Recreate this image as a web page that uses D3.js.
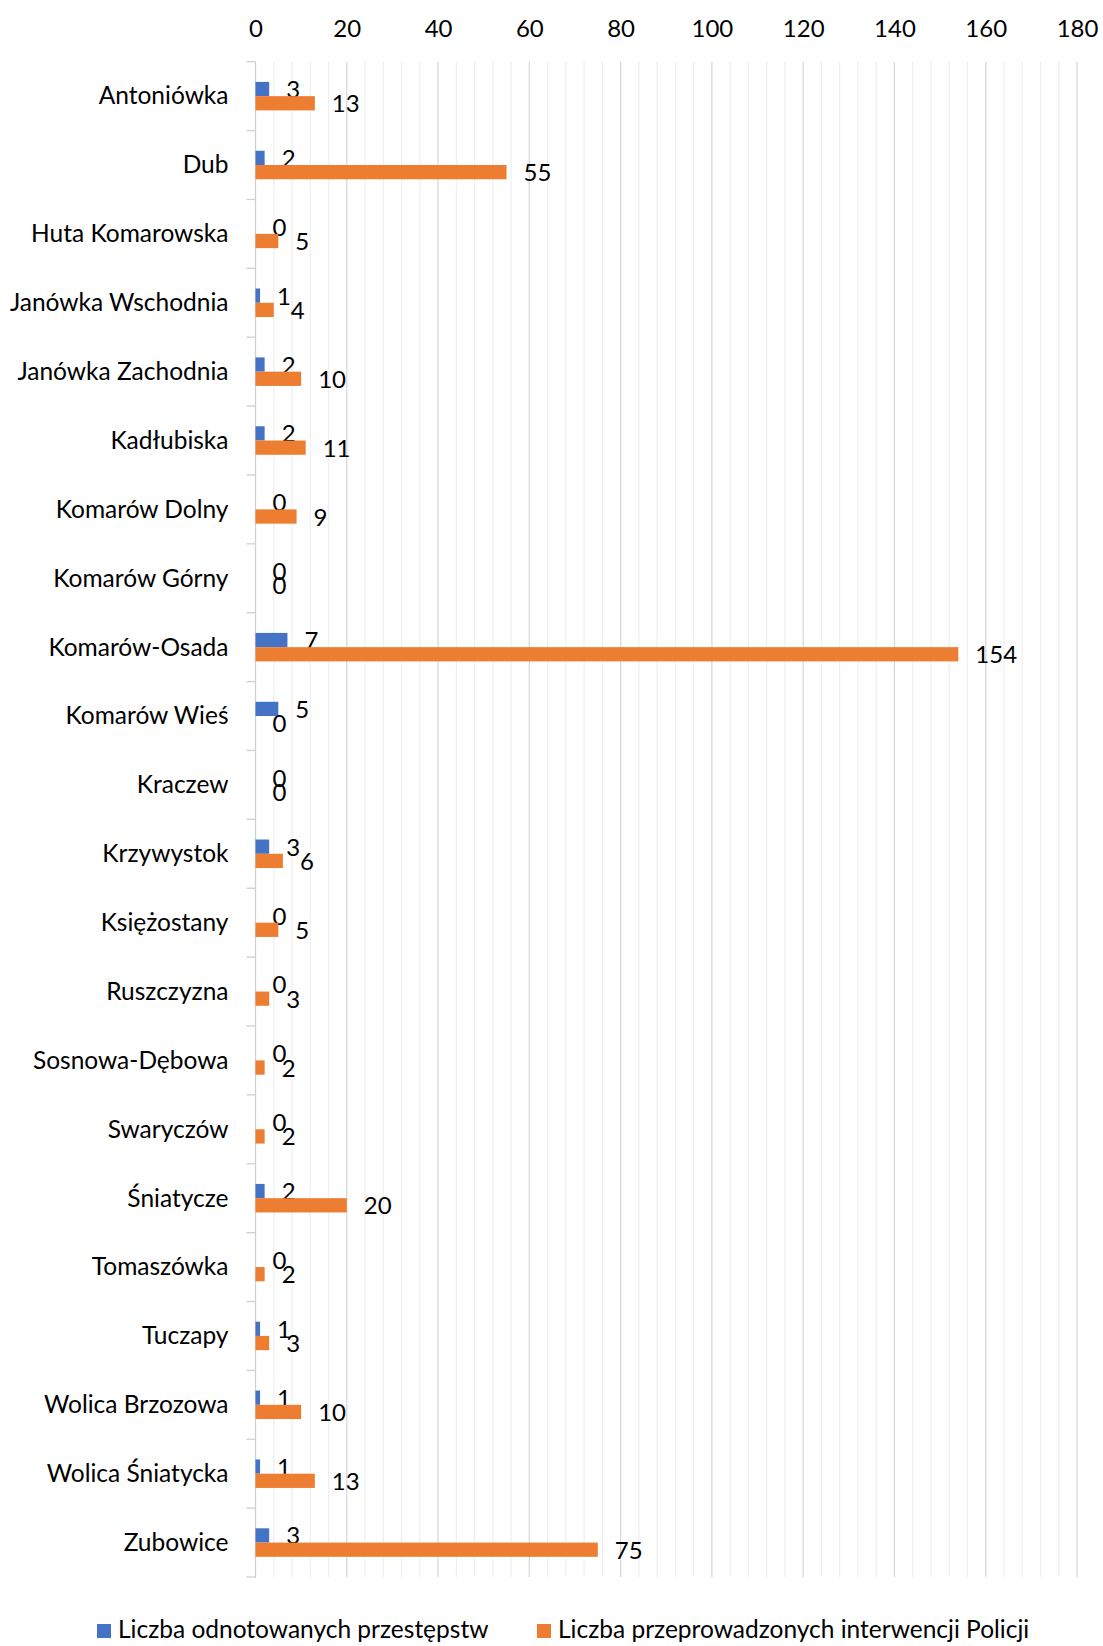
<!DOCTYPE html>
<html lang="pl">
<head>
<meta charset="utf-8">
<title>Przestępstwa i interwencje Policji według miejscowości</title>
<script src="https://cdn.jsdelivr.net/npm/d3@7"></script>
<style>
  html, body { margin: 0; padding: 0; background: #ffffff; }
  svg { display: block; }
  text { font-family: Lato, "Liberation Sans", sans-serif; fill: #000; }
</style>
</head>
<body>
<div id="chart"></div>
<script>
// Miejscowości (kolejność od góry)
const categories = [
  "Antoniówka", "Dub", "Huta Komarowska", "Janówka Wschodnia", "Janówka Zachodnia",
  "Kadłubiska", "Komarów Dolny", "Komarów Górny", "Komarów-Osada", "Komarów Wieś",
  "Kraczew", "Krzywystok", "Księżostany", "Ruszczyzna", "Sosnowa-Dębowa",
  "Swaryczów", "Śniatycze", "Tomaszówka", "Tuczapy", "Wolica Brzozowa",
  "Wolica Śniatycka", "Zubowice"
];

// Liczba odnotowanych przestępstw
const crimes = [3, 2, 0, 1, 2, 2, 0, 0, 7, 5, 0, 3, 0, 0, 0, 0, 2, 0, 1, 1, 1, 3];

// Liczba przeprowadzonych interwencji Policji
const interventions = [13, 55, 5, 4, 10, 11, 9, 0, 154, 0, 0, 6, 5, 3, 2, 2, 20, 2, 3, 10, 13, 75];

const seriesNames = ["Liczba odnotowanych przestępstw", "Liczba przeprowadzonych interwencji Policji"];
const seriesColors = ["#4472C4", "#ED7D31"];

// Oś wartości
const xMax = 180;
const majorTicks = [0, 20, 40, 60, 80, 100, 120, 140, 160, 180];
const minorStep = 4;

const W = 1103, H = 1646;
const plot = { left: 255.5, right: 1077, top: 61.7, bottom: 1577 };
const labelFont = 24.5;
const numberFont = 24;

const svg = d3.select("#chart").append("svg")
  .attr("width", W).attr("height", H);

const x = d3.scaleLinear().domain([0, xMax]).range([plot.left, plot.right]);
const y = d3.scaleBand().domain(categories).range([plot.top, plot.bottom]).padding(0);

const groupH = y.bandwidth() * 0.414;
const ySeries = d3.scaleBand().domain([0, 1]).range([-groupH / 2, groupH / 2]).padding(0);

// Linie siatki: pomocnicze (co 4) i główne (co 20)
const minorValues = d3.range(minorStep, xMax + 0.001, minorStep).filter(v => v % 20 !== 0);
svg.append("g").selectAll("line").data(minorValues).join("line")
  .attr("x1", d => x(d)).attr("x2", d => x(d))
  .attr("y1", plot.top).attr("y2", plot.bottom)
  .attr("stroke", "#efefef").attr("stroke-width", 1.2);

svg.append("g").selectAll("line").data(majorTicks.filter(v => v > 0)).join("line")
  .attr("x1", d => x(d)).attr("x2", d => x(d))
  .attr("y1", plot.top).attr("y2", plot.bottom)
  .attr("stroke", "#d9d9d9").attr("stroke-width", 1.3);

// Górna oś z etykietami wartości
const xAxis = d3.axisTop(x).tickValues(majorTicks).tickSize(0).tickPadding(0);
const gx = svg.append("g").attr("transform", "translate(0,36.5)").call(xAxis);
gx.select(".domain").remove();
gx.selectAll("text")
  .attr("font-family", "Lato, 'Liberation Sans', sans-serif")
  .attr("font-size", numberFont).attr("fill", "#000").attr("dy", 0);

// Oś kategorii
const yAxis = d3.axisLeft(y).tickSize(0).tickPadding(27);
const gy = svg.append("g").attr("transform", `translate(${plot.left},0)`).call(yAxis);
gy.select(".domain").remove();
gy.selectAll("text")
  .attr("font-family", "Lato, 'Liberation Sans', sans-serif")
  .attr("font-size", labelFont).attr("fill", "#000")
  .attr("dy", "0.34em");

// Linia osi i znaczniki na granicach kategorii
svg.append("line")
  .attr("x1", plot.left).attr("x2", plot.left)
  .attr("y1", plot.top).attr("y2", plot.bottom + 1)
  .attr("stroke", "#d0d0d0").attr("stroke-width", 1.3);
const boundaries = categories.map(c => y(c)).concat([plot.bottom]);
svg.append("g").selectAll("line").data(boundaries).join("line")
  .attr("x1", plot.left - 9).attr("x2", plot.left)
  .attr("y1", d => d).attr("y2", d => d)
  .attr("stroke", "#d0d0d0").attr("stroke-width", 1.3);

// Słupki i etykiety danych
const seriesData = [crimes, interventions];
seriesData.forEach((values, s) => {
  const rows = categories.map((c, i) => ({ c, v: values[i] }));
  const g = svg.append("g");
  g.selectAll("rect").data(rows).join("rect")
    .attr("x", x(0))
    .attr("y", d => y(d.c) + y.bandwidth() / 2 + ySeries(s))
    .attr("width", d => x(d.v) - x(0))
    .attr("height", ySeries.bandwidth())
    .attr("fill", seriesColors[s]);
  g.selectAll("text").data(rows).join("text")
    .attr("x", d => x(d.v) + 17)
    .attr("y", d => y(d.c) + y.bandwidth() / 2 + ySeries(s) + ySeries.bandwidth() / 2 + 9)
    .attr("font-size", numberFont)
    .text(d => d.v);
});

// Legenda
const legendItems = [
  { name: seriesNames[0], color: seriesColors[0], x: 97 },
  { name: seriesNames[1], color: seriesColors[1], x: 537 }
];
const lg = svg.append("g");
legendItems.forEach(item => {
  lg.append("rect")
    .attr("x", item.x).attr("y", 1624)
    .attr("width", 14).attr("height", 14)
    .attr("fill", item.color);
  lg.append("text")
    .attr("x", item.x + 21).attr("y", 1638)
    .attr("font-size", labelFont)
    .text(item.name);
});
</script>
</body>
</html>
